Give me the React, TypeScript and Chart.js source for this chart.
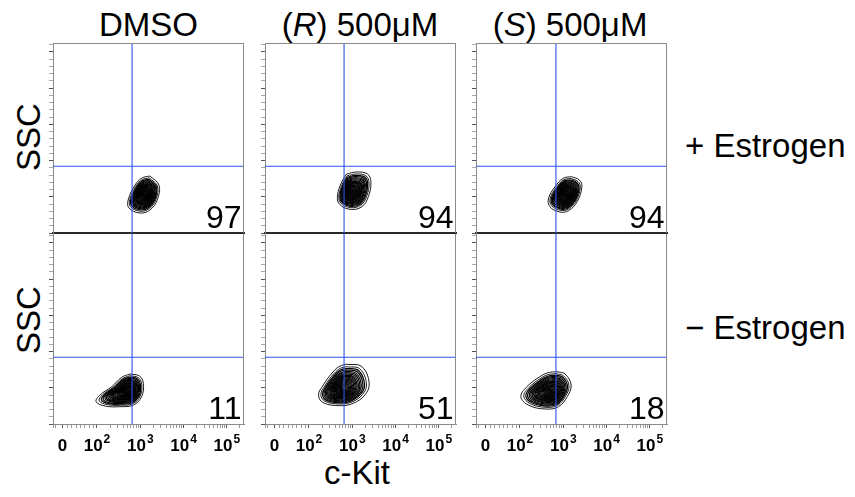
import React, { useEffect, useRef } from 'react';
import { Chart, registerables } from 'chart.js';

Chart.register(...registerables);

const FONT = '"Liberation Sans", Arial, Helvetica, sans-serif';

// ---------- text ----------
const columnTitles = ['DMSO', '(R) 500μM', '(S) 500μM'];
const rowLabels = ['+ Estrogen', '− Estrogen'];
const xAxisTitle = 'c-Kit';
const yAxisTitle = 'SSC';

// ---------- quadrant percentages ----------
const percentPlusEstrogen = [97, 94, 94];
const percentMinusEstrogen = [11, 51, 18];

// ---------- gates (c-Kit in log10 display units, SSC linear) ----------
const gateCKit = [2.81, 2.81, 2.83];
const gateSSC = 92000;

// ---------- axes ----------
const X_MIN = 0.984;
const X_MAX = 5.395;
const Y_MIN = 0;
const Y_MAX = 262144;
const xLabelPositions = [1.2, 2, 3, 4, 5];
const xLabelExponents = [null, '2', '3', '4', '5'];
const xLowMinorTicks = [1.05, 1.32, 1.42, 1.52, 1.62, 1.72, 1.82, 1.91];
const yMajorStep = 50000;
const yMinorStep = 10000;

// ---------- contour outlines (outermost level), [log10 c-Kit, SSC] ----------
const dmsoPlusOutline = [[3.22, 78600], [3.43, 66200], [3.39, 45500], [3.22, 31700], [2.99, 27600], [2.74, 34500], [2.72, 45500], [2.88, 66200], [3.04, 75900]];
const dmsoPlusCore = [3.09, 52400];
const rPlusOutline = [[2.87, 81400], [3.10, 84200], [3.35, 81400], [3.43, 70800], [3.37, 50100], [3.22, 36300], [2.95, 32700], [2.70, 40000], [2.66, 52400], [2.76, 70800]];
const rPlusCore = [2.99, 56600];
const sPlusOutline = [[3.19, 77700], [3.37, 73100], [3.43, 63900], [3.32, 43200], [3.12, 30800], [2.92, 29000], [2.69, 36300], [2.66, 47900], [2.81, 63900], [3.00, 75500]];
const sPlusCore = [3.06, 52400];
const dmsoMinusOutline = [[2.76, 69000], [2.98, 66200], [3.07, 56200], [3.03, 37700], [2.84, 26200], [2.53, 23900], [2.19, 24800], [1.98, 30800], [2.07, 40000], [2.34, 51500], [2.57, 64400]];
const dmsoMinusCore = [2.69, 44200];
const rMinusOutline = [[2.87, 82400], [3.22, 79100], [3.39, 56200], [3.29, 40000], [3.02, 28600], [2.72, 25300], [2.33, 29400], [2.22, 40000], [2.33, 53800], [2.56, 72200], [2.72, 80000]];
const rMinusCore = [2.76, 48300];
const sMinusOutline = [[2.85, 72200], [3.04, 69000], [3.18, 53800], [3.09, 37700], [2.89, 23900], [2.58, 20700], [2.19, 26200], [2.02, 37700], [2.16, 51500], [2.46, 65300], [2.65, 70800]];
const sMinusCore = [2.69, 44200];

// relative size of each contour level
const contourLevels = [1, 0.9, 0.83, 0.77, 0.71, 0.66, 0.61, 0.56, 0.52, 0.48, 0.44, 0.4, 0.36, 0.32, 0.28, 0.24, 0.2, 0.16, 0.12, 0.08, 0.04];

const outlines = [
  [dmsoPlusOutline, rPlusOutline, sPlusOutline],
  [dmsoMinusOutline, rMinusOutline, sMinusOutline],
];
const cores = [
  [dmsoPlusCore, rPlusCore, sPlusCore],
  [dmsoMinusCore, rMinusCore, sMinusCore],
];
const percents = [percentPlusEstrogen, percentMinusEstrogen];

// ---------- layout ----------
const COL_LEFT = [53, 265, 476];
const ROW_TOP = [43, 234];
const PW = 191;
const PH = 190;
const AX_W = 14;
const PAD = 4;
const X_AX_H = 48;

const FRAME = '#8a8a8a';
const DIVIDER = '#2a2a2a';
const GATE = '#2c50f0';

function buildXTicks() {
  const t: number[] = [X_MIN + 0.0001, ...xLowMinorTicks, ...xLabelPositions];
  for (let d = 2; d <= 5; d++) {
    for (let k = 2; k <= 9; k++) {
      const v = d + Math.log10(k);
      if (v < X_MAX) t.push(v);
    }
  }
  return t.sort((a, b) => a - b);
}

function buildYTicks() {
  const t: number[] = [];
  for (let v = Y_MIN; v <= Y_MAX; v += yMinorStep) t.push(v);
  return t;
}

function rings(outline: number[][], core: number[]) {
  return contourLevels.map((s) => {
    const pts = outline.map(([x, y]) => ({ x: core[0] + (x - core[0]) * s, y: core[1] + (y - core[1]) * s }));
    pts.push(pts[0]);
    return pts;
  });
}

function Panel({ r, c }: { r: number; c: number }) {
  const ref = useRef<HTMLCanvasElement | null>(null);
  const w = AX_W + PW + PAD;
  const h = PAD + PH + (r === 0 ? PAD : X_AX_H);

  useEffect(() => {
    if (!ref.current) return;
    const xTicks = buildXTicks();
    const yTicks = buildYTicks();
    const g = gateCKit[c];
    const contourSets = rings(outlines[r][c], cores[r][c]).map((pts, i) => ({
      data: pts,
      showLine: true,
      borderColor: '#000',
      borderWidth: i < 2 ? 0.9 : 1.2,
      pointRadius: 0,
      tension: 0.4,
      fill: false,
    }));
    const datasets: any[] = [
      { data: [{ x: g, y: Y_MIN }, { x: g, y: Y_MAX }], showLine: true, borderColor: GATE, borderWidth: 1.1, pointRadius: 0 },
      { data: [{ x: X_MIN, y: gateSSC }, { x: X_MAX, y: gateSSC }], showLine: true, borderColor: GATE, borderWidth: 1.1, pointRadius: 0 },
      ...contourSets,
    ];

    const decor = {
      id: 'decor',
      afterDraw(chart: any) {
        const { ctx, chartArea: a, scales } = chart;
        ctx.save();
        ctx.lineWidth = 1;
        ctx.strokeStyle = FRAME;
        if (r === 0) {
          ctx.beginPath();
          ctx.moveTo(a.left, a.top + 0.5);
          ctx.lineTo(a.right, a.top + 0.5);
          ctx.stroke();
        }
        ctx.beginPath();
        ctx.moveTo(a.right - 0.5, a.top);
        ctx.lineTo(a.right - 0.5, a.bottom);
        ctx.stroke();
        // percentage
        ctx.fillStyle = '#000';
        ctx.font = `32px ${FONT}`;
        ctx.textAlign = 'right';
        ctx.textBaseline = 'alphabetic';
        ctx.fillText(String(percents[r][c]), a.right - 2.5, a.bottom - 5);
        // x tick labels
        if (r === 1) {
          const base = a.bottom + 27;
          ctx.textAlign = 'left';
          xLabelPositions.forEach((v, i) => {
            const px = scales.x.getPixelForValue(v);
            const e = xLabelExponents[i];
            ctx.font = `bold 17px ${FONT}`;
            if (e === null) {
              const w0 = ctx.measureText('0').width;
              ctx.fillText('0', px - w0 / 2, base);
            } else {
              const w1 = ctx.measureText('10').width;
              ctx.font = `bold 12px ${FONT}`;
              const w2 = ctx.measureText(e).width;
              const start = px - (w1 + 1 + w2) / 2;
              ctx.font = `bold 17px ${FONT}`;
              ctx.fillText('10', start, base);
              ctx.font = `bold 12px ${FONT}`;
              ctx.fillText(e, start + w1 + 1, base - 8);
            }
          });
        }
        ctx.restore();
      },
    };

    const chart = new Chart(ref.current, {
      type: 'scatter',
      data: { datasets },
      options: {
        animation: false,
        responsive: false,
        maintainAspectRatio: false,
        events: [],
        layout: { padding: { left: 0, top: PAD, right: PAD, bottom: r === 0 ? PAD : 0 } },
        plugins: { legend: { display: false }, tooltip: { enabled: false } },
        scales: {
          x: {
            type: 'linear',
            min: X_MIN,
            max: X_MAX,
            afterBuildTicks: (s: any) => {
              s.ticks = xTicks.map((v) => ({ value: v }));
            },
            afterFit: (s: any) => {
              s.height = r === 0 ? 0 : X_AX_H;
            },
            ticks: { display: false },
            grid: {
              display: true,
              drawOnChartArea: false,
              drawTicks: r === 1,
              tickLength: 4,
              color: FRAME,
              tickColor: (ctx: any) => (xLabelPositions.some((p) => Math.abs(p - ctx.tick?.value) < 1e-6) ? '#555' : '#999'),
            },
            border: { display: true, color: r === 0 ? DIVIDER : FRAME, width: r === 0 ? 2 : 1 },
          },
          y: {
            type: 'linear',
            min: Y_MIN,
            max: Y_MAX,
            afterBuildTicks: (s: any) => {
              s.ticks = yTicks.map((v) => ({ value: v }));
            },
            afterFit: (s: any) => {
              s.width = AX_W;
            },
            ticks: { display: false },
            grid: {
              display: true,
              drawOnChartArea: false,
              drawTicks: true,
              tickLength: 4,
              color: FRAME,
              tickColor: (ctx: any) => ((ctx.tick?.value ?? 1) % yMajorStep === 0 ? '#555' : '#aaa'),
            },
            border: { display: true, color: FRAME, width: 1 },
          },
        },
      },
      plugins: [decor],
    } as any);
    return () => chart.destroy();
  }, [r, c]);

  return (
    <canvas
      ref={ref}
      width={w}
      height={h}
      style={{ position: 'absolute', left: COL_LEFT[c] - AX_W, top: ROW_TOP[r] - PAD, width: w, height: h }}
    />
  );
}

function Title({ text, x }: { text: string; x: number }) {
  const m = text.match(/^\((.)\)(.*)$/);
  return (
    <text x={x} y={36} textAnchor="middle" fontSize={33}>
      {m ? (
        <>
          (<tspan fontStyle="italic">{m[1]}</tspan>){m[2]}
        </>
      ) : (
        text
      )}
    </text>
  );
}

export default function App() {
  const titleX = [148.5, 360, 570];
  const rowBase = [157, 339];
  const sscY = [137, 320];
  return (
    <div style={{ position: 'absolute', left: 0, top: 0, width: 855, height: 497, background: '#fff', overflow: 'hidden' }}>
      <svg width={855} height={497} style={{ position: 'absolute', left: 0, top: 0 }} fontFamily={FONT} fill="#000">
        {columnTitles.map((t, i) => (
          <Title key={t} text={t} x={titleX[i]} />
        ))}
        {rowLabels.map((t, i) => (
          <text key={t} x={685} y={rowBase[i]} fontSize={33}>
            {t}
          </text>
        ))}
        {sscY.map((y, i) => (
          <text key={i} transform={`translate(40 ${y}) rotate(-90)`} textAnchor="middle" fontSize={33}>
            {yAxisTitle}
          </text>
        ))}
        <text x={357} y={484} textAnchor="middle" fontSize={33}>
          {xAxisTitle}
        </text>
      </svg>
      {[0, 1].map((r) => [0, 1, 2].map((c) => <Panel key={`${r}-${c}`} r={r} c={c} />))}
    </div>
  );
}
